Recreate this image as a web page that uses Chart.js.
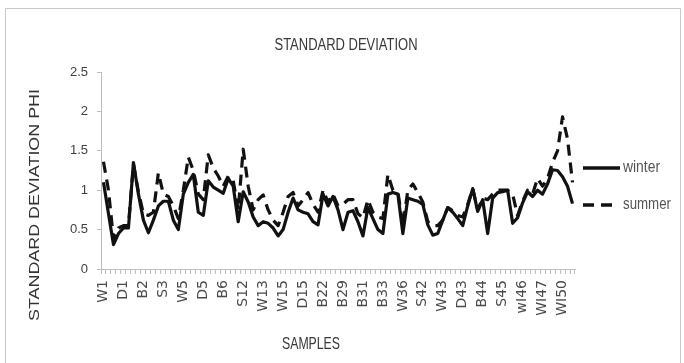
<!DOCTYPE html>
<html>
<head>
<meta charset="utf-8">
<script src="https://cdn.jsdelivr.net/npm/chart.js@4.4.1/dist/chart.umd.min.js"></script>
<style>
  html, body { margin: 0; padding: 0; background: #fff; }
  #wrap { position: relative; width: 684px; height: 363px; }
</style>
</head>
<body>
<div id="wrap"><canvas id="sdChart" width="684" height="363"></canvas></div>
<script>
'use strict';

// every 4th sample gets a label on the x axis
const TICK_LABELS = [
  'W1', 'D1', 'B2', 'S3', 'W5', 'D5', 'B6', 'S12', 'W13', 'W15', 'D15', 'B22',
  'B29', 'B31', 'B33', 'W36', 'S42', 'W43', 'D43', 'B44', 'S45', 'wI46', 'WI47', 'WI50',
];
const LABEL_EVERY = 4;
const SAMPLE_COUNT = 95;

const WINTER = [
  1.10, 0.70, 0.31, 0.45, 0.52, 0.52, 1.35, 0.95, 0.62, 0.46,
  0.62, 0.80, 0.86, 0.86, 0.62, 0.50, 0.95, 1.10, 1.20, 0.72,
  0.68, 1.12, 1.04, 1.00, 0.96, 1.15, 1.05, 0.60, 0.98, 0.85,
  0.66, 0.55, 0.60, 0.58, 0.52, 0.42, 0.50, 0.72, 0.90, 0.75,
  0.72, 0.70, 0.60, 0.56, 0.95, 0.80, 0.92, 0.75, 0.50, 0.72,
  0.74, 0.60, 0.42, 0.78, 0.64, 0.50, 0.45, 0.95, 0.97, 0.95,
  0.45, 0.90, 0.88, 0.86, 0.82, 0.56, 0.43, 0.45, 0.62, 0.78,
  0.72, 0.64, 0.55, 0.80, 1.02, 0.73, 0.88, 0.45, 0.90, 0.97,
  0.98, 1.00, 0.58, 0.65, 0.84, 0.98, 0.92, 1.00, 0.95, 1.08,
  1.26, 1.25, 1.17, 1.05, 0.83,
];

const SUMMER = [
  1.36, 1.00, 0.38, 0.52, 0.55, 0.55, 1.33, 0.98, 0.70, 0.68,
  0.72, 1.22, 0.95, 0.92, 0.80, 0.64, 1.00, 1.42, 1.25, 0.95,
  0.88, 1.45, 1.28, 1.18, 1.05, 1.18, 1.12, 0.75, 1.52, 1.05,
  0.75, 0.88, 0.94, 0.75, 0.62, 0.55, 0.72, 0.92, 0.97, 0.80,
  0.88, 0.97, 0.82, 0.72, 1.00, 0.85, 0.95, 0.80, 0.82, 0.88,
  0.88, 0.70, 0.65, 0.88, 0.72, 0.66, 0.64, 1.20, 1.00, 0.98,
  0.55, 1.00, 1.08, 0.97, 0.85, 0.60, 0.55, 0.55, 0.62, 0.78,
  0.74, 0.68, 0.66, 0.82, 1.02, 0.75, 0.90, 0.88, 0.95, 1.00,
  1.00, 1.00, 0.95, 0.68, 0.86, 1.00, 0.95, 1.15, 1.05, 1.15,
  1.35, 1.50, 1.93, 1.65, 1.10,
];

const Y_MIN = 0;
const Y_MAX = 2.5;
const Y_STEP = 0.5;

const labels = Array.from({ length: SAMPLE_COUNT }, (_, i) =>
  i % LABEL_EVERY === 0 ? TICK_LABELS[i / LABEL_EVERY] : ''
);

const TEXT_FONT = '"Liberation Sans", Arial, sans-serif';
const AXIS_GREY = '#bdbdbd';

// fills text squeezed/stretched along its baseline to a given width
const drawFitted = (ctx, text, x, y, width, size, angle, align, color) => {
  ctx.save();
  ctx.font = `${size}px ${TEXT_FONT}`;
  const natural = ctx.measureText(text).width;
  ctx.translate(x, y);
  ctx.rotate(angle);
  ctx.scale(width / natural, 1);
  ctx.fillStyle = color;
  ctx.textAlign = align;
  ctx.textBaseline = 'middle';
  ctx.fillText(text, 0, 0);
  ctx.restore();
};

const frameAndTitles = {
  id: 'frameAndTitles',
  beforeDraw(chart) {
    const { ctx, width, height } = chart;
    ctx.save();
    ctx.fillStyle = '#fff';
    ctx.fillRect(0, 0, width, height);
    ctx.strokeStyle = '#c8c8c8';
    ctx.lineWidth = 1;
    ctx.beginPath();
    ctx.moveTo(5.5, height);
    ctx.lineTo(5.5, 8.5);
    ctx.lineTo(680.5, 8.5);
    ctx.lineTo(680.5, height);
    ctx.stroke();
    ctx.restore();
  },
  afterDraw(chart) {
    const { ctx } = chart;
    drawFitted(ctx, 'STANDARD DEVIATION', 346, 46, 143, 16, 0, 'center', '#383838');
    drawFitted(ctx, 'STANDARD DEVIATION PHI', 35, 205, 232, 15.5, -Math.PI / 2, 'center', '#333');
    drawFitted(ctx, 'SAMPLES', 311, 344, 58, 17, 0, 'center', '#383838');

    // legend, right of the plot
    const rows = [
      { ds: chart.data.datasets[0], y: 168, x2: 620, textWidth: 37 },
      { ds: chart.data.datasets[1], y: 205, x2: 613, textWidth: 48 },
    ];
    for (const row of rows) {
      ctx.save();
      ctx.strokeStyle = row.ds.borderColor;
      ctx.lineWidth = 3.5;
      ctx.setLineDash(row.ds.borderDash || []);
      ctx.beginPath();
      ctx.moveTo(583, row.y);
      ctx.lineTo(row.x2, row.y);
      ctx.stroke();
      ctx.restore();
      drawFitted(ctx, row.ds.label, 623, row.y, row.textWidth, 16, 0, 'left', '#555');
    }
  },
};

const data = {
  labels,
  datasets: [
    {
      label: 'winter',
      data: WINTER,
      borderColor: '#111',
      borderWidth: 3.2,
      borderJoinStyle: 'round',
      pointRadius: 0,
      tension: 0,
      order: 0,
    },
    {
      label: 'summer',
      data: SUMMER,
      borderColor: '#111',
      borderWidth: 3.2,
      borderDash: [11, 7],
      borderJoinStyle: 'round',
      pointRadius: 0,
      tension: 0,
      order: 1,
    },
  ],
};

const chartConfig = {
  type: 'line',
  data,
  plugins: [frameAndTitles],
  options: {
    responsive: false,
    animation: false,
    events: [],
    layout: {
      padding: { left: 0, top: 72, right: 109, bottom: 0 },
    },
    plugins: {
      legend: { display: false },
      tooltip: { enabled: false },
    },
    scales: {
      x: {
        type: 'category',
        offset: true,
        afterFit: (scale) => {
          scale.height = 94;
        },
        grid: {
          offset: true,
          drawOnChartArea: false,
          drawTicks: true,
          tickLength: 5,
          tickColor: AXIS_GREY,
        },
        border: { display: true, color: AXIS_GREY, width: 1 },
        ticks: {
          autoSkip: false,
          minRotation: 90,
          maxRotation: 90,
          padding: 6,
          color: '#4a4a4a',
          font: { family: '"DejaVu Sans", sans-serif', size: 14 },
        },
      },
      y: {
        min: Y_MIN,
        max: Y_MAX,
        afterFit: (scale) => {
          scale.width = 101;
        },
        grid: {
          drawOnChartArea: false,
          drawTicks: true,
          tickLength: 4,
          tickColor: AXIS_GREY,
        },
        border: { display: true, color: AXIS_GREY, width: 1 },
        ticks: {
          stepSize: Y_STEP,
          padding: 9,
          color: '#3f3f3f',
          font: { family: TEXT_FONT, size: 13 },
          callback: (value) => String(Math.round(value * 10) / 10),
        },
      },
    },
  },
};

new Chart(document.getElementById('sdChart'), chartConfig);
</script>
</body>
</html>
